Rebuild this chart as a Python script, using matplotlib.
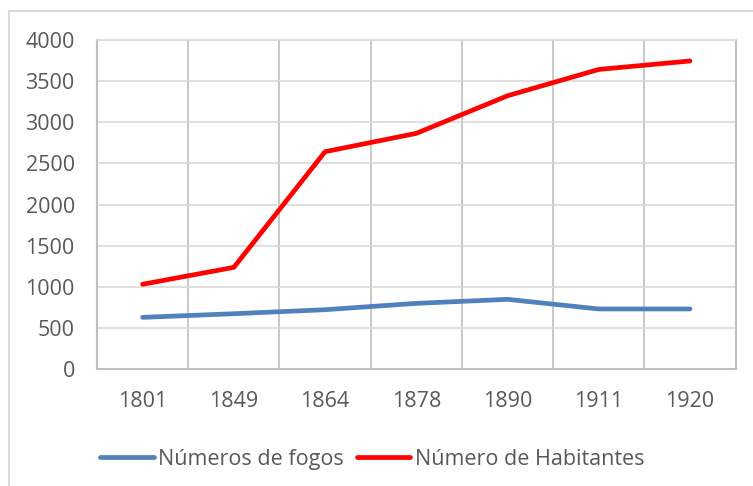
import matplotlib
matplotlib.use("Agg")
import matplotlib.pyplot as plt
from matplotlib.patches import Rectangle
from matplotlib.lines import Line2D

years = ["1801", "1849", "1864", "1878", "1890", "1911", "1920"]
fogos = [628, 672, 721, 798, 847, 730, 730]
habitantes = [1030, 1236, 2642, 2865, 3322, 3642, 3745]
y_ticks = [0, 500, 1000, 1500, 2000, 2500, 3000, 3500, 4000]

plt.rcParams['font.family'] = ['Open Sans', 'DejaVu Sans']
W, H = 753, 486
fig = plt.figure(figsize=(W / 100, H / 100), dpi=100)
ax = fig.add_axes([97 / W, 1 - 369 / H, (735.6 - 97) / W, (369 - 40) / H])

text_col = "#595959"
fs = 15.5
x = [i + 0.5 for i in range(len(years))]
ax.plot(x, fogos, color="#4f81bd", lw=3.4, solid_capstyle="round", solid_joinstyle="round", zorder=3)
ax.plot(x, habitantes, color="#ff0000", lw=3.4, solid_capstyle="round", solid_joinstyle="round", zorder=3)

ax.set_xlim(0, len(years))
ax.set_ylim(0, 4000)
ax.set_yticks(y_ticks)
ax.set_yticklabels([str(v) for v in y_ticks])
ax.set_xticks(x)
ax.set_xticklabels(years)
ax.set_xticks([i * 0.5 for i in range(2 * len(years) + 1)], minor=True)

ax.grid(axis="y", color="#d9d9d9", lw=1.2)
ax.grid(axis="x", which="minor", color="#bfbfbf", lw=1.2)
ax.set_axisbelow(True)
ax.tick_params(axis="both", which="both", length=0, colors=text_col, labelsize=fs)
ax.tick_params(axis="y", pad=16)
ax.tick_params(axis="x", pad=16)
for s in ["top"]:
    ax.spines[s].set_color("#d9d9d9")
    ax.spines[s].set_linewidth(1.2)
for s in ["left", "bottom", "right"]:
    ax.spines[s].set_color("#bfbfbf")
    ax.spines[s].set_linewidth(1.5)

# outer chart border
fig.patches.append(Rectangle((9 / W, -0.1), 1.2, 1 - 11 / H + 0.1, transform=fig.transFigure,
                             fill=False, edgecolor="#d9d9d9", lw=1.5))

handles = [Line2D([], [], color="#4f81bd", lw=3.4, solid_capstyle="round"),
           Line2D([], [], color="#ff0000", lw=3.4, solid_capstyle="round")]
fig.legend(handles, ["Números de fogos", "Número de Habitantes"], loc="center",
           bbox_to_anchor=(372 / W, 1 - 459 / H), ncol=2, frameon=False,
           fontsize=fs, labelcolor=text_col, handlelength=2.5, handletextpad=0.2,
           columnspacing=0.6)

fig.savefig("out.png", dpi=100)
